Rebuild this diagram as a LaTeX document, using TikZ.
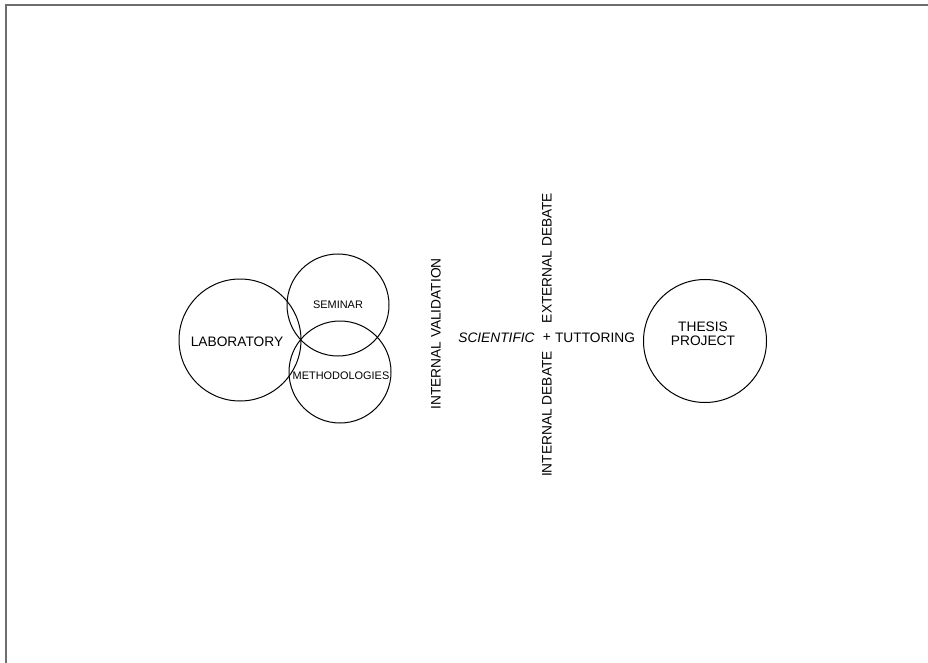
\documentclass[tikz,border=0pt]{standalone}
\usepackage{fontspec}
\setmainfont{Liberation Sans}

\tikzset{every picture/.style={line width=0.75pt}}
\tikzset{
  bigtext/.style={inner sep=0.75pt, font=\fontsize{10.3}{10.5}\selectfont, align=center},
  smalltext/.style={inner sep=0.75pt, font=\fontsize{8.2}{9}\selectfont},
}

\begin{document}
\begin{tikzpicture}[x=0.75pt,y=0.75pt,yscale=-1,xscale=1]
    \useasboundingbox (0,0) rectangle (928,663);

    %Frame
    \draw [color={rgb, 255:red, 110; green, 110; blue, 110 }, line width=1.2pt] (6,663) -- (6,5) -- (928,5) ;

    %Shape: Circles
    \draw (240,340) circle [radius=61] ;
    \draw (338,305) circle [radius=51] ;
    \draw (340,372) circle [radius=51] ;
    \draw (705,341) circle [radius=61.5] ;

    % Text Node
    \node [bigtext] (lab) at (237,341.5) {LABORATORY};
    % Text Node
    \node [smalltext] (sem) at (338,305) {SEMINAR};
    % Text Node
    \node [smalltext] (met) at (341,376) {METHODOLOGIES};
    % Text Node
    \node [bigtext, rotate=90] (intval) at (436,334) {INTERNAL VALIDATION};
    % Text Node
    \node [bigtext] (sci) at (496.5,338) {\itshape SCIENTIFIC};
    % Text Node
    \node [bigtext] (plus) at (547,338) {+};
    % Text Node
    \node [bigtext] (tut) at (595,338) {TUTTORING};
    % Text Node
    \node [bigtext, rotate=90] (extdeb) at (547,258) {EXTERNAL DEBATE};
    % Text Node
    \node [bigtext, rotate=90] (intdeb) at (547,414) {INTERNAL DEBATE};
    % Text Node
    \node [bigtext] (thesis) at (703,334) {THESIS\\PROJECT};

\end{tikzpicture}
\end{document}
